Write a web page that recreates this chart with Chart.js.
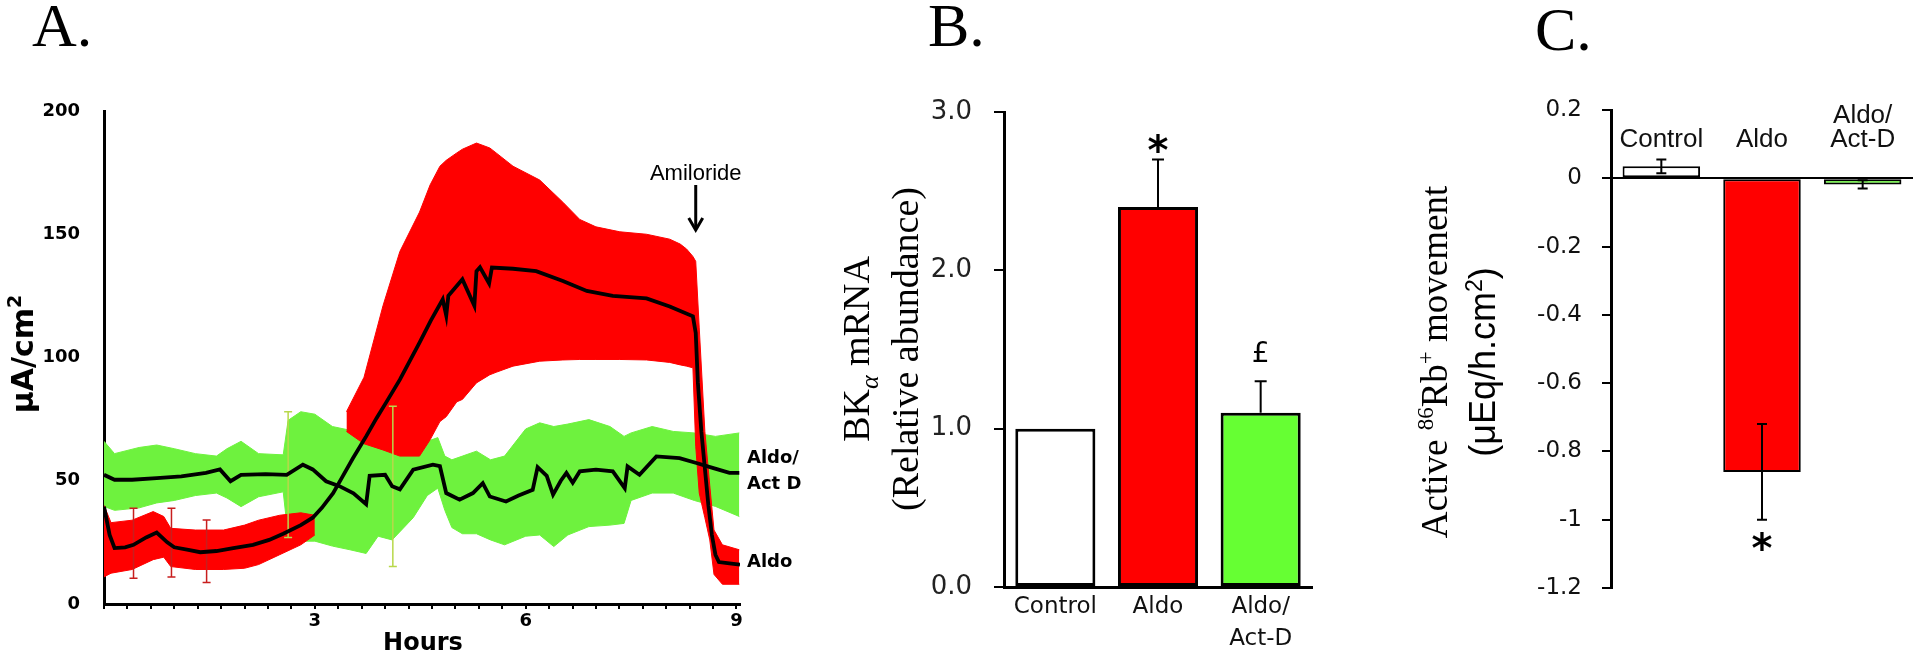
<!DOCTYPE html>
<html><head><meta charset="utf-8">
<script src="https://cdn.jsdelivr.net/npm/chart.js@4.4.1/dist/chart.umd.min.js"></script>
<style>
html,body{margin:0;padding:0;background:#fff;}
#wrap{position:relative;width:1920px;height:660px;background:#fff;overflow:hidden;}
canvas{position:absolute;top:0;}
</style></head><body>
<div id="wrap">
<canvas id="cA" width="820" height="660" style="left:0px;width:820px;height:660px"></canvas>
<canvas id="cB" width="520" height="660" style="left:820px;width:520px;height:660px"></canvas>
<canvas id="cC" width="580" height="660" style="left:1340px;width:580px;height:660px"></canvas>
</div>
<script>
// ---------- Panel A data (hours, µA/cm²) ----------
const hourTicks = [3, 6, 9];
const currentTicks = [0, 50, 100, 150, 200];

const aldoHours = [0,0.08,0.15,0.3,0.42,0.6,0.75,0.9,1.0,1.2,1.37,1.6,1.84,2.12,2.35,2.55,2.8,2.97,3.1,3.26,3.4,3.54,3.73,3.88,4.02,4.21,4.49,4.65,4.82,4.87,4.9,5.1,5.27,5.3,5.35,5.48,5.52,5.82,6.15,6.53,6.87,7.24,7.72,8.05,8.38,8.42,8.45,8.5,8.55,8.6,8.65,8.7,8.75,8.9,9.05];
const aldoMean  = [39.5,28,22.7,23,24,27,29,25,23,22,21,21.5,22.7,24,26,28.5,32,35,39,45,52,59,68,75.5,82,91,106,115,123.6,117,125,131.7,121,135,136.6,130,136.5,136,135,131,127,125,124,120.7,116.7,110,90,70,55,40,28,20,17,16.5,16];

const aldoBandHours1 = [0,0.1,0.4,0.7,0.85,0.95,1.3,1.7,2.0,2.2,2.5,2.8,3.0];
const aldoUpper1     = [40,33,34,37.5,35.5,30.7,30,30,32,34,36,37,36];
const aldoLower1     = [11,12.5,14,18,19,15.2,14,14,14.5,16,20,24,28];

const aldoBandHours2 = [3.45,3.7,3.97,4.21,4.49,4.64,4.78,4.87,5.02,5.1,5.3,5.49,5.58,5.82,6.2,6.53,6.77,7.0,7.34,7.72,8.05,8.2,8.29,8.38,8.42,8.47,8.55,8.62,8.68,8.8,9.04];
const aldoUpper2     = [78,92,121,143,159,170,177.6,180,183,184.5,187,185,183,177.6,172,163,156,153,151,150,148,146,144,141,139,112,70,48,30,24,22];
const aldoLower2     = [70,65,62.5,60,60,66.6,74,76,82,83,89.7,93,94,96.5,98.5,99,99.2,99.2,99.2,99,98,97,96.5,95.8,64,45,35,26,12,8,8];

const actdHours = [0,0.15,0.4,0.75,1.1,1.45,1.65,1.8,1.95,2.3,2.6,2.83,2.97,3.16,3.35,3.55,3.73,3.78,4.0,4.1,4.21,4.4,4.68,4.78,4.87,5.06,5.25,5.39,5.49,5.72,5.9,6.1,6.17,6.3,6.39,6.5,6.58,6.67,6.77,7.0,7.24,7.41,7.45,7.62,7.86,8.19,8.43,8.66,8.9,9.04];
const actdMean  = [52.4,50.4,50.4,51.1,51.8,53.2,54.6,49.8,52.4,52.7,52.4,56.5,54.6,49.8,47.8,44.9,40.5,52,52.4,47.8,46.5,54.5,56.5,55.9,45,42.3,45,49,43.6,41.6,44,46.3,55.5,52,44.4,50,53.2,49.2,53.8,54.5,53.8,47,55.8,52.4,59.9,59.2,57.2,55.2,53.2,53.2];

const actdBandHours = [0,0.15,0.5,0.75,1.0,1.3,1.6,1.75,1.95,2.2,2.55,2.62,2.8,3.0,3.25,3.5,3.73,3.9,4.1,4.4,4.6,4.75,4.85,4.95,5.1,5.3,5.5,5.7,6.0,6.2,6.4,6.6,6.9,7.2,7.4,7.5,7.8,8.1,8.4,8.7,9.04];
const actdUpper     = [66,61,63.5,64.5,63,61,60,63,66,61,60.5,74.5,78,77,72,70.5,68,67,64,65,66,67.5,60,58.5,60,62,58.5,60,71,73.5,72,73,74.8,72,68,69.4,72,70,69.4,68,69.4];
const actdLower     = [39.6,38,39,41,42,44,45,43,39.5,43.5,45.5,27.5,25.5,25.5,23.5,22,20.5,27.5,26,35,44,47,38,31,28.5,28.5,26,24,27.5,28,23.3,28,31.4,32,32.7,42,45,45,42,39.6,35.5];

// single error bars that stick out of the bands
const whiskerHours  = [0.42, 0.96, 1.46, 2.62, 4.11];
const whiskerHigh   = [38.8, 38.8, 34.1, 78, 80.2];
const whiskerLow    = [10.4, 11, 8.7, 27, 15.2];
const whiskerSeries = ['Aldo', 'Aldo', 'Aldo', 'Aldo/Act D', 'Aldo/Act D'];

const amilorideHour = 8.42;

// ---------- Panels B and C data ----------
const groups      = ['Control', 'Aldo', ['Aldo/', 'Act-D']];
const barColors   = ['#ffffff', '#ff0000', '#66ff33'];
const bkValues    = [1.0, 2.4, 1.1];
const bkErrors    = [0, 0.3, 0.2];
const bkMarks     = ['', '*', '£'];
const bkTicks     = [0, 1, 2, 3];
const rbValues    = [0.035, -0.86, -0.018];
const rbErrors    = [0.02, 0.14, 0.012];
const rbMarks     = ['', '*', ''];

const SERIF = '"Liberation Serif", "Times New Roman", serif';
const DEJA = '"DejaVu Sans", Verdana, sans-serif';
const ARIAL = '"Liberation Sans", Arial, sans-serif';

function pts(xs, ys){ return xs.map((x,i)=>({x:x, y:ys[i]})); }

function drawRotated(ctx, cx, cy, runs){
  ctx.save();
  ctx.translate(cx, cy);
  ctx.rotate(-Math.PI/2);
  ctx.textAlign='left'; ctx.textBaseline='alphabetic';
  let total=0;
  runs.forEach(r=>{ctx.font=r.font; r.w=ctx.measureText(r.text).width; total+=r.w;});
  let x=-total/2;
  runs.forEach(r=>{ctx.font=r.font; ctx.fillText(r.text, x, r.dy||0); x+=r.w;});
  ctx.restore();
}

const common = {
  responsive:false, animation:false, events:[],
  plugins:{legend:{display:false}, tooltip:{enabled:false}, title:{display:false}},
};

// ---------- Panel A ----------
const bandLine = (c)=>({borderColor:c, backgroundColor:c, borderWidth:1, pointRadius:0, tension:0});
const whiskersA = {
  id:'whiskersA',
  beforeDatasetsDraw(chart){
    // drawn under the bands' neighbours but above nothing else; lines are thin
  },
  afterDatasetDraw(chart, args){
    if (args.index !== 2) return; // after red band segment 1 (before black means)
    const {ctx, scales:{x, y}} = chart;
    ctx.save();
    ctx.lineWidth = 1.5;
    whiskerHours.forEach((h,i)=>{
      ctx.strokeStyle = whiskerSeries[i]==='Aldo' ? '#c81e1e' : '#b8d84a';
      const px = x.getPixelForValue(h), yt = y.getPixelForValue(whiskerHigh[i]), yb = y.getPixelForValue(whiskerLow[i]);
      ctx.beginPath(); ctx.moveTo(px, yt); ctx.lineTo(px, yb);
      ctx.moveTo(px-4, yt); ctx.lineTo(px+4, yt);
      ctx.moveTo(px-4, yb); ctx.lineTo(px+4, yb); ctx.stroke();
    });
    ctx.restore();
  }
};
const annotA = {
  id:'annotA',
  afterDraw(chart){
    const {ctx, chartArea, scales:{x, y}} = chart;
    ctx.save();
    ctx.fillStyle='#000'; ctx.strokeStyle='#000';
    ctx.font='62px '+SERIF; ctx.textAlign='left'; ctx.textBaseline='alphabetic';
    ctx.fillText('A.', 32, 46);
    drawRotated(ctx, 33, 354, [
      {text:'\u03bcA/cm', font:'bold 30px '+DEJA},
      {text:'2', font:'bold 19px '+DEJA, dy:-12}
    ]);
    ctx.font='bold 24px '+DEJA; ctx.textAlign='center';
    ctx.fillText('Hours', 423, 650);
    // Amiloride arrow
    const ax = x.getPixelForValue(amilorideHour);
    ctx.font='22px '+ARIAL; ctx.textAlign='center';
    ctx.fillText('Amiloride', ax, 180);
    ctx.lineWidth=3;
    ctx.beginPath(); ctx.moveTo(ax, 185); ctx.lineTo(ax, 229); ctx.stroke();
    ctx.beginPath(); ctx.moveTo(ax-7, 218); ctx.lineTo(ax, 230); ctx.lineTo(ax+7, 218); ctx.stroke();
    // series labels
    ctx.font='bold 18px '+DEJA; ctx.textAlign='left'; ctx.textBaseline='middle';
    const lx = chartArea.right + 7;
    ctx.fillText('Aldo/', lx, y.getPixelForValue(59));
    ctx.fillText('Act D', lx, y.getPixelForValue(48.5));
    ctx.fillText('Aldo', lx, y.getPixelForValue(17));
    ctx.restore();
  }
};
new Chart(document.getElementById('cA'), {
  type:'line',
  data:{datasets:[
    {data:pts(aldoHours, aldoMean), borderColor:'#000', borderWidth:3.8, pointRadius:0, fill:false, tension:0},
    {data:pts(actdHours, actdMean), borderColor:'#000', borderWidth:3.8, pointRadius:0, fill:false, tension:0},
    Object.assign({data:pts(aldoBandHours1, aldoUpper1), fill:'+1'}, bandLine('#ff0000')),
    Object.assign({data:pts(aldoBandHours1, aldoLower1), fill:false}, bandLine('#ff0000')),
    Object.assign({data:pts(aldoBandHours2, aldoUpper2), fill:'+1'}, bandLine('#ff0000')),
    Object.assign({data:pts(aldoBandHours2, aldoLower2), fill:false}, bandLine('#ff0000')),
    Object.assign({data:pts(actdBandHours, actdUpper), fill:'+1'}, bandLine('#6ef23e')),
    Object.assign({data:pts(actdBandHours, actdLower), fill:false}, bandLine('#6ef23e')),
  ]},
  options:Object.assign({}, common, {
    layout:{autoPadding:false, padding:{left:0, top:111, right:80, bottom:0}},
    scales:{
      x:{type:'linear', min:0, max:9.05,
         afterBuildTicks(s){ const t=[]; for(let k=0;k<=27;k++) t.push({value:k/3}); s.ticks=t; },
         afterFit(s){ s.height = 56; },
         border:{display:true, color:'#000', width:3},
         grid:{display:true, drawOnChartArea:false, drawTicks:true, tickLength:5, color:'#000', tickColor:'#000', lineWidth:2, tickWidth:2},
         ticks:{autoSkip:false, maxRotation:0, padding:2, color:'#000', font:{family:DEJA, size:18, weight:'bold'},
           callback(v){ const r=Math.round(v); return (Math.abs(v-r)<1e-6 && hourTicks.includes(r)) ? String(r) : ''; }}
      },
      y:{type:'linear', min:0, max:200,
         afterBuildTicks(s){ s.ticks = currentTicks.map(v=>({value:v})); },
         afterFit(s){ s.width = 104; },
         border:{display:true, color:'#000', width:3},
         grid:{display:false, drawTicks:false},
         ticks:{padding:24, color:'#000', font:{family:DEJA, size:18, weight:'bold'}}
      }
    }
  }),
  plugins:[whiskersA, annotA]
});

// ---------- Panel B ----------
const annotB = {
  id:'annotB',
  afterDraw(chart){
    const {ctx, scales:{x, y}} = chart;
    ctx.save();
    ctx.fillStyle='#000'; ctx.strokeStyle='#000';
    ctx.font='62px '+SERIF; ctx.textAlign='left'; ctx.textBaseline='alphabetic';
    ctx.fillText('B.', 108, 46);
    drawRotated(ctx, 49, 349, [
      {text:'BK', font:'38px '+SERIF},
      {text:'\u03b1', font:'italic 26px '+SERIF, dy:9},
      {text:' mRNA', font:'38px '+SERIF}
    ]);
    drawRotated(ctx, 98, 349, [{text:'(Relative abundance)', font:'38px '+SERIF}]);
    ctx.lineWidth=2;
    bkValues.forEach((v,i)=>{
      const px = x.getPixelForValue(i);
      if (bkErrors[i] > 0){
        const yb = y.getPixelForValue(v), yt = y.getPixelForValue(v+bkErrors[i]);
        ctx.beginPath(); ctx.moveTo(px, yb); ctx.lineTo(px, yt);
        ctx.moveTo(px-6, yt); ctx.lineTo(px+6, yt); ctx.stroke();
        if (bkMarks[i]){
          ctx.textAlign='center'; ctx.textBaseline='alphabetic';
          if (bkMarks[i]==='*'){ ctx.font='bold 40px '+DEJA; ctx.fillText('*', px, yt+4); }
          else { ctx.font='28px '+DEJA; ctx.fillText(bkMarks[i], px, yt-19); }
        }
      }
    });
    ctx.restore();
  }
};
new Chart(document.getElementById('cB'), {
  type:'bar',
  data:{labels:groups, datasets:[{data:bkValues, backgroundColor:barColors, borderColor:'#000', borderWidth:3, borderSkipped:false, categoryPercentage:1, barPercentage:0.78}]},
  options:Object.assign({}, common, {
    layout:{autoPadding:false, padding:{left:0, top:112, right:28, bottom:0}},
    scales:{
      x:{afterFit(s){ s.height = 73; },
         border:{display:true, color:'#000', width:3},
         grid:{display:false, drawTicks:false},
         ticks:{padding:5, color:'#111', font:{family:DEJA, size:23, lineHeight:1.35}}
      },
      y:{min:0, max:3,
         afterBuildTicks(s){ s.ticks = bkTicks.map(v=>({value:v})); },
         afterFit(s){ s.width = 184; },
         border:{display:true, color:'#000', width:3},
         grid:{display:true, drawOnChartArea:false, drawTicks:true, tickLength:10, color:'#000', tickColor:'#000', lineWidth:2, tickWidth:2},
         ticks:{padding:22, color:'#222', font:{family:DEJA, size:26}, callback(v){ return v.toFixed(1); }}
      }
    }
  }),
  plugins:[annotB]
});

// ---------- Panel C ----------
const annotC = {
  id:'annotC',
  afterDraw(chart){
    const {ctx, chartArea, scales:{x, y}} = chart;
    ctx.save();
    ctx.fillStyle='#000'; ctx.strokeStyle='#000';
    ctx.font='62px '+SERIF; ctx.textAlign='left'; ctx.textBaseline='alphabetic';
    ctx.fillText('C.', 195, 50);
    drawRotated(ctx, 107, 362, [
      {text:'Active ', font:'37px '+SERIF},
      {text:'86', font:'23px '+SERIF, dy:-14},
      {text:'Rb', font:'37px '+SERIF},
      {text:'+', font:'23px '+SERIF, dy:-14},
      {text:' movement', font:'37px '+SERIF}
    ]);
    drawRotated(ctx, 155, 362, [
      {text:'(\u03bcEq/h.cm', font:'36px '+ARIAL},
      {text:'2', font:'23px '+ARIAL, dy:-13},
      {text:')', font:'36px '+ARIAL}
    ]);
    // category labels inside the plot
    ctx.font='26px '+ARIAL; ctx.textAlign='center'; ctx.textBaseline='alphabetic'; ctx.fillStyle='#111';
    groups.forEach((g,i)=>{
      const px = x.getPixelForValue(i);
      if (Array.isArray(g)){ ctx.fillText(g[0], px, chartArea.top+13); ctx.fillText(g[1], px, chartArea.top+37); }
      else ctx.fillText(g, px, chartArea.top+37);
    });
    ctx.fillStyle='#000';
    ctx.lineWidth=2;
    rbValues.forEach((v,i)=>{
      const px = x.getPixelForValue(i);
      const yt = y.getPixelForValue(v+rbErrors[i]), yb = y.getPixelForValue(v-rbErrors[i]);
      ctx.beginPath(); ctx.moveTo(px, yt); ctx.lineTo(px, yb);
      ctx.moveTo(px-5, yt); ctx.lineTo(px+5, yt);
      ctx.moveTo(px-5, yb); ctx.lineTo(px+5, yb); ctx.stroke();
      if (rbMarks[i]){
        ctx.font='bold 40px '+DEJA; ctx.textAlign='center'; ctx.textBaseline='alphabetic';
        ctx.fillText(rbMarks[i], px, yb+42);
      }
    });
    ctx.restore();
  }
};
new Chart(document.getElementById('cC'), {
  type:'bar',
  data:{labels:groups, datasets:[{data:rbValues, backgroundColor:barColors, borderColor:'#000', borderWidth:2, borderSkipped:false, categoryPercentage:1, barPercentage:0.77}]},
  options:Object.assign({}, common, {
    layout:{autoPadding:false, padding:{left:0, top:110, right:7, bottom:72}},
    scales:{
      x:{display:false},
      y:{min:-1.2, max:0.2,
         afterBuildTicks(s){ const t=[]; for(let k=-6;k<=1;k++) t.push({value:k*0.2}); s.ticks=t; },
         afterFit(s){ s.width = 271; },
         border:{display:true, color:'#000', width:3},
         grid:{display:true, drawOnChartArea:true, drawTicks:true, tickLength:9,
               color:(c)=> (c.tick && Math.abs(c.tick.value)<1e-9) ? '#000' : 'rgba(0,0,0,0)',
               tickColor:'#000', lineWidth:2, tickWidth:2},
         ticks:{padding:20, color:'#111', font:{family:DEJA, size:23},
           callback(v){ const s=parseFloat(v.toFixed(1)); return (s===0 ? 0 : s).toString(); }}
      }
    }
  }),
  plugins:[annotC]
});
</script>
</body></html>
